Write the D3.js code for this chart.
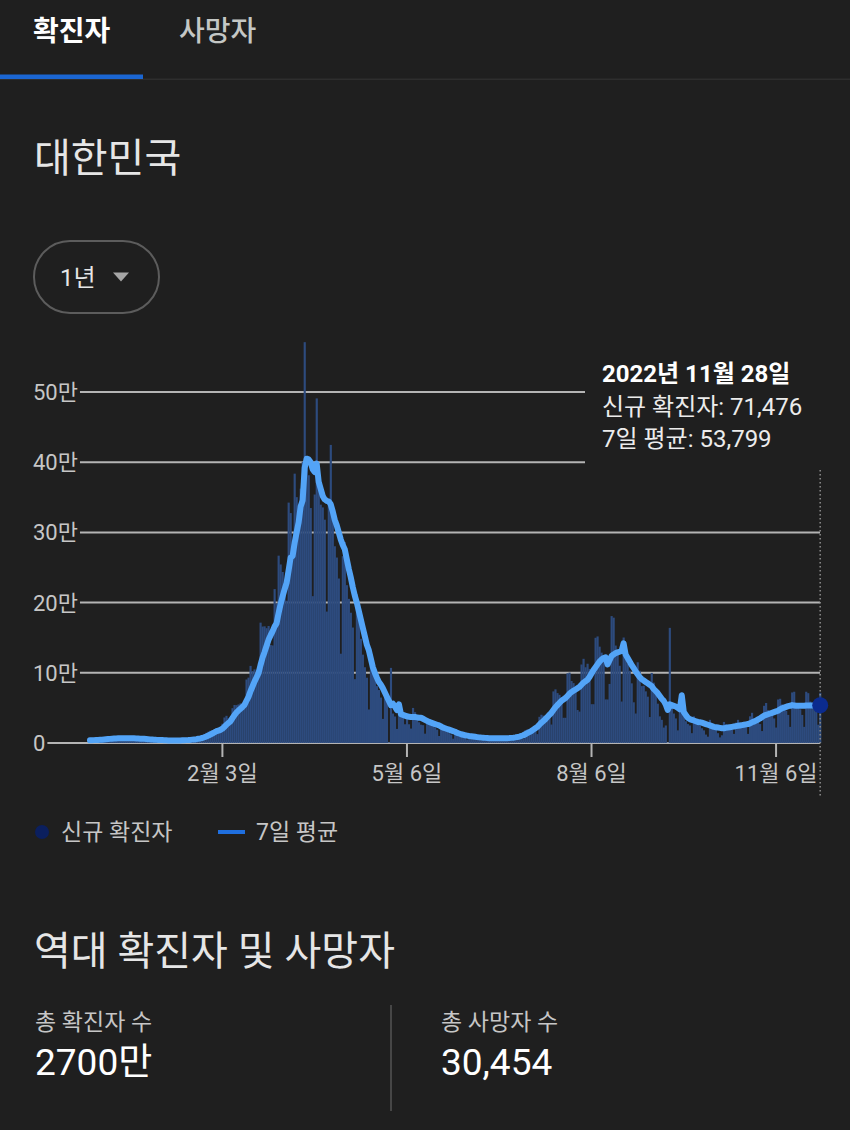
<!DOCTYPE html>
<html><head><meta charset="utf-8">
<script src="https://cdn.jsdelivr.net/npm/d3@7"></script>
<style>
html,body{margin:0;padding:0;background:#1f1f1f;}
svg{display:block;font-family:Roboto,"Noto Sans CJK KR",sans-serif;}
</style></head><body>
<svg id="c" width="850" height="1130"></svg>
<script>
// ---------- DATA ----------
const startDate = "2021-11-29";           // first day shown (1년 range, ends 2022-11-28)
const dailyCases = [
// Nov 29 - Dec 31 2021
3032,5123,5266,4944,5352,5128,4325,4954,7175,7102,7022,6977,6689,5817,5567,7850,7622,7435,7314,6236,5318,5202,7456,6919,6233,5842,5419,4207,3865,5409,5037,4875,4416,
// Jan 2022
3833,3129,3022,4444,4126,3713,3510,3376,3005,3097,4388,4167,4542,4422,4194,3857,4071,5805,6603,6769,7009,7630,7513,8571,13012,14518,16096,17542,17528,18342,20270,
// Feb
18341,22907,27443,36362,38691,35286,36719,49567,54122,53926,54941,56431,53950,57177,90443,93135,109831,102211,104829,95362,99573,171452,165890,166209,163566,166722,139626,138993,
// Mar
219241,198803,266853,254327,243628,210716,202721,342446,327549,282987,383665,350190,309790,362338,400741,571000,407017,381454,334708,209169,353980,490881,395598,339514,335580,318130,187213,347554,424641,320743,280273,
// Apr
264171,234301,127190,266135,286294,224820,205333,185566,164481,90928,210755,195419,148443,125846,107916,93001,47743,118504,111319,90867,81058,75449,64725,34370,76787,68551,1000,107000,42000,37771,
// May
20084,51131,49064,42296,26714,40064,26692,20601,49933,43925,35907,29581,26043,25434,13296,35117,29581,26000,23956,22000,19000,9975,23956,21000,18000,16584,14000,12000,6141,16000,13000,
// Jun
10000,12000,11000,9000,5000,6000,13000,10000,8500,7500,6500,3800,9400,8000,7500,7000,6200,5500,3500,9300,8000,7500,7200,6300,5500,3400,9500,9600,9500,10700,
// Jul
10400,10000,6200,18100,19300,18500,19300,20400,20300,12700,37300,40200,38900,39100,40300,41300,26300,73500,76400,71100,68600,65400,35900,35900,99300,100300,88300,85300,73600,47000,44700,
// Aug
111789,119922,107894,112901,105507,55292,55262,149897,151792,137241,128714,124592,62078,62000,84128,180803,178574,138812,129411,110000,59046,150267,139339,113000,103000,85000,58000,42000,115000,103000,81000,
// Sep
81573,73586,66000,37000,99837,86000,71000,56000,38000,33000,22000,25000,500,164000,51000,42000,35000,18000,45000,71000,38000,31000,27000,25000,14000,38000,30000,28000,25000,21000,
// Oct
18000,12000,9000,33000,26000,22000,19000,14000,8000,11000,30000,27000,24000,22000,20000,13000,29000,33000,29000,28000,26000,23000,13000,38000,43000,35000,34000,30000,27000,17000,53000,
// Nov (to 28th)
57000,47000,43000,40000,35000,22000,62000,63000,55000,51000,46000,40000,23000,72000,73000,55000,52000,48000,40000,23000,73000,71000,59000,56000,50000,45000,26000,71476
];
const avg7 = [
// Nov 29 - Dec 31 2021
3756,3900,4090,4239,4422,4593,4739,5013,5306,5569,5865,6098,6321,6534,6621,6718,6792,6851,6899,6834,6763,6711,6655,6554,6383,6172,6056,5897,5706,5413,5145,4951,4747,
// Jan
4520,4366,4246,4108,3978,3812,3682,3617,3599,3610,3602,3608,3726,3857,3974,4095,4234,4437,4785,5103,5473,5963,6486,7129,8158,9289,10621,12126,13540,15087,16758,
// Feb
17520,18718,20339,23028,26051,28471,30821,35282,39741,43525,46179,48713,51379,54302,60141,65715,73701,80454,87368,93284,99341,110913,121307,129361,138126,146968,153291,158923,
// Mar
165750,170451,184829,197795,208782,218937,228041,245642,264034,266339,284816,300039,314193,336995,345323,392000,405000,404000,400000,390000,386000,398000,372000,362000,352000,347000,345000,344000,340000,330000,318000,
// Apr
310000,300000,290000,282000,276000,262000,248000,236000,222000,210000,200000,188000,176000,164000,152000,140000,132000,120000,108000,100000,93000,87000,83000,78000,72000,66000,60000,54000,56000,52000,
// May
47000,55000,41000,40000,39000,38000,37500,37000,37000,37000,36500,36000,36000,34500,33000,31500,30000,29000,28000,27000,26000,25000,23500,22000,21000,20000,19000,18000,17000,16000,14500,
// Jun
13500,12500,11800,11000,10500,10000,9600,9200,8800,8400,8000,7700,7500,7300,7100,6900,6800,6700,6600,6600,6600,6600,6700,6800,6900,7000,7300,7600,8000,8500,
// Jul
9200,10000,11000,12500,14000,15500,17000,19000,21000,23000,26000,29000,31500,34000,37000,40000,43000,47000,51000,54000,57000,60000,62000,64000,67000,70000,72500,74500,76000,78000,80000,
// Aug
83000,86000,88000,90000,94000,99000,104000,108000,112000,116000,119000,121000,122000,112000,118000,124000,126000,128000,129000,130000,131000,142000,126000,121000,116000,111000,107000,102000,98000,94000,91000,
// Sep
89000,87000,85000,83000,81000,77000,74000,71000,67000,63000,60000,55000,47000,55000,54000,53000,52000,50000,48000,68000,44000,40000,36000,34000,33000,32000,31000,30000,29500,29000,
// Oct
28000,27000,26000,25000,24000,23000,22500,22000,21500,21000,21000,21500,22000,22500,23000,23500,24000,24500,25000,25500,26000,26500,27000,28000,29500,30500,32000,33500,35000,37000,39000,
// Nov
40000,41000,42000,43000,44000,45000,46000,48000,49500,50500,51500,52500,53000,54000,53500,53000,53000,53000,53000,53000,53500,53500,53500,53500,53600,53700,53700,53799
];
const yTicks = [0,100000,200000,300000,400000,500000];
const yTickLabels = ["0","10만","20만","30만","40만","50만"];
const xTickDates = ["2022-02-03","2022-05-06","2022-08-06","2022-11-06"];
const xTickLabels = ["2월 3일","5월 6일","8월 6일","11월 6일"];
const tabLabels = ["확진자","사망자"];
const regionTitle = "대한민국";
const rangeLabel = "1년";
const legendLabels = ["신규 확진자","7일 평균"];
const totalsTitle = "역대 확진자 및 사망자";
const totalLabels = ["총 확진자 수","총 사망자 수"];
const totalValues = ["2700만","30,454"];

// ---------- DRAW ----------
const svg = d3.select("#c");
const W = 850;
const parse = d3.utcParse("%Y-%m-%d");
const t0 = parse(startDate);
const dates = dailyCases.map((_, i) => d3.utcDay.offset(t0, i));
const last = dailyCases.length - 1;

svg.append("rect").attr("width", W).attr("height", 1130).attr("fill", "#1f1f1f");

// tabs
svg.append("text").text(tabLabels[0]).attr("x", 33).attr("y", 41)
  .attr("font-size", 28).attr("font-weight", 700).attr("fill", "#ffffff");
svg.append("text").text(tabLabels[1]).attr("x", 179).attr("y", 41)
  .attr("font-size", 28).attr("font-weight", 500).attr("fill", "#c4c7c5");
svg.append("rect").attr("x", 0).attr("y", 78.5).attr("width", W).attr("height", 1.5).attr("fill", "#2e2e2e");
svg.append("rect").attr("x", 0).attr("y", 74.5).attr("width", 143).attr("height", 4.5).attr("fill", "#1b66d2");

// region title
svg.append("text").text(regionTitle).attr("x", 34).attr("y", 172)
  .attr("font-size", 40).attr("font-weight", 400).attr("fill", "#e6e6e6");

// dropdown
svg.append("rect").attr("x", 34).attr("y", 241).attr("width", 125).attr("height", 72)
  .attr("rx", 36).attr("fill", "none").attr("stroke", "#5c5c5c").attr("stroke-width", 2);
svg.append("text").text(rangeLabel).attr("x", 60).attr("y", 286)
  .attr("font-size", 24).attr("fill", "#e6e6e6");
svg.append("path").attr("d", "M113,272.5 L129,272.5 L121,281.5 Z").attr("fill", "#a6a6a6");

// scales
const x = d3.scaleUtc().domain([t0, d3.utcDay.offset(t0, dailyCases.length)]).range([89, 821.2]);
const y = d3.scaleLinear().domain([0, 500000]).range([743, 392]);
const bw = x(dates[1]) - x(dates[0]);

// gridlines + y labels
const gy = svg.append("g");
yTicks.forEach((v, i) => {
  const t = gy.append("text").text(yTickLabels[i]).attr("x", 33).attr("y", y(v))
    .attr("dy", "0.36em").attr("font-size", 22).attr("fill", "#c6c6c6");
  const w = t.node().getComputedTextLength();
  gy.append("line").attr("x1", 33 + w + 2).attr("x2", 820).attr("y1", y(v)).attr("y2", y(v))
    .attr("stroke", "#b4b4b4").attr("stroke-width", 2);
});

// bars
svg.append("g").selectAll("rect").data(dailyCases).join("rect")
  .attr("x", (d, i) => x(dates[i]))
  .attr("width", bw + 0.15)
  .attr("y", d => y(d))
  .attr("height", d => y(0) - y(d))
  .attr("fill", "#2d4b7e");

// x axis ticks
const xa = svg.append("g");
xTickDates.forEach((s, i) => {
  const xp = x(parse(s)) + bw / 2;
  xa.append("line").attr("x1", xp).attr("x2", xp).attr("y1", 743).attr("y2", 757)
    .attr("stroke", "#b4b4b4").attr("stroke-width", 2);
  xa.append("text").text(xTickLabels[i]).attr("x", xp).attr("y", 781)
    .attr("text-anchor", "middle").attr("font-size", 22).attr("fill", "#c6c6c6");
});

// 7-day average line
const line = d3.line().x((d, i) => x(dates[i]) + bw / 2).y(d => y(d));
svg.append("path").datum(avg7).attr("d", line).attr("fill", "none")
  .attr("stroke", "#53a4f7").attr("stroke-width", 6)
  .attr("stroke-linejoin", "round").attr("stroke-linecap", "round");

// hover line, tooltip
const hx = x(dates[last]) + bw / 2;
svg.append("line").attr("x1", hx).attr("x2", hx).attr("y1", 350).attr("y2", 798)
  .attr("stroke", "#8c8c8c").attr("stroke-width", 1.5).attr("stroke-dasharray", "1.5,2.5");
svg.append("rect").attr("x", 585).attr("y", 350).attr("width", 237).attr("height", 118)
  .attr("fill", "#1f1f1f");
const fmtDate = d3.utcFormat("%Y년 %-m월 %-d일");
const fmtN = d3.format(",");
const tip = svg.append("g").attr("fill", "#ffffff").attr("font-size", 24);
tip.append("text").text(fmtDate(dates[last])).attr("x", 602).attr("y", 382).attr("font-weight", 700);
tip.append("text").text(legendLabels[0] + ": " + fmtN(dailyCases[last])).attr("x", 602).attr("y", 415).attr("fill", "#ececec");
tip.append("text").text(legendLabels[1] + ": " + fmtN(avg7[last])).attr("x", 602).attr("y", 447).attr("fill", "#ececec");

// end dot
svg.append("circle").attr("cx", hx).attr("cy", y(avg7[last])).attr("r", 8).attr("fill", "#0b2b8e");

// legend
svg.append("circle").attr("cx", 42).attr("cy", 832).attr("r", 7).attr("fill", "#0b1f5e");
svg.append("text").text(legendLabels[0]).attr("x", 61).attr("y", 840)
  .attr("font-size", 23).attr("fill", "#c6c6c6");
svg.append("line").attr("x1", 218).attr("x2", 245).attr("y1", 832).attr("y2", 832)
  .attr("stroke", "#1f6fdf").attr("stroke-width", 4);
svg.append("text").text(legendLabels[1]).attr("x", 256).attr("y", 840)
  .attr("font-size", 23).attr("fill", "#c6c6c6");

// totals
svg.append("text").text(totalsTitle).attr("x", 34).attr("y", 965)
  .attr("font-size", 40).attr("fill", "#e6e6e6");
[35, 441].forEach((xp, i) => {
  svg.append("text").text(totalLabels[i]).attr("x", xp).attr("y", 1030)
    .attr("font-size", 23).attr("fill", "#c6c6c6");
  svg.append("text").text(totalValues[i]).attr("x", xp).attr("y", 1075)
    .attr("font-size", 37).attr("fill", "#ffffff");
});
svg.append("line").attr("x1", 391).attr("x2", 391).attr("y1", 1005).attr("y2", 1111)
  .attr("stroke", "#555555").attr("stroke-width", 1.5);
</script>
</body></html>
